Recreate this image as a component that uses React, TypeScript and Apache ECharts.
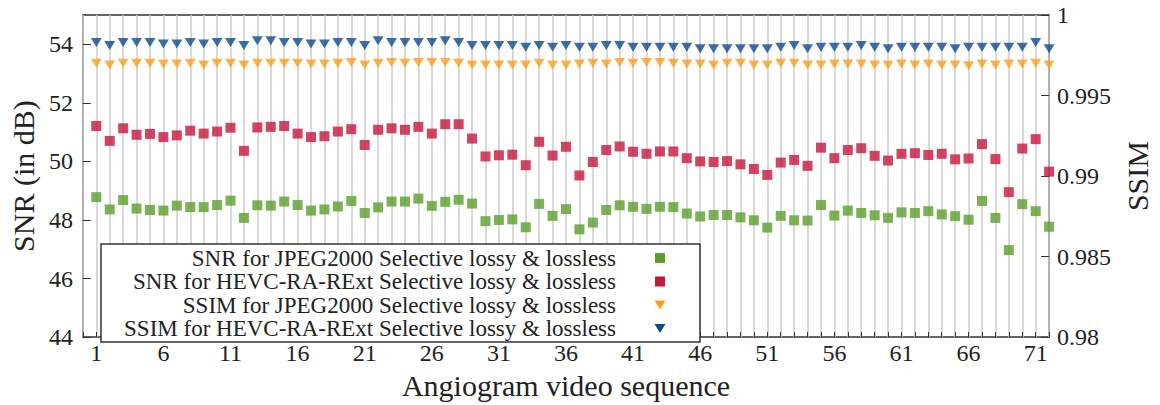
import React, { useEffect, useRef } from "react";
import * as echarts from "echarts";

const sequences = [
  1, 2, 3, 4, 5, 6, 7, 8, 9, 10, 11, 12, 13, 14, 15, 16, 17, 18, 19, 20, 21, 22, 23, 24,
  25, 26, 27, 28, 29, 30, 31, 32, 33, 34, 35, 36, 37, 38, 39, 40, 41, 42, 43, 44, 45, 46, 47, 48,
  49, 50, 51, 52, 53, 54, 55, 56, 57, 58, 59, 60, 61, 62, 63, 64, 65, 66, 67, 68, 69, 70, 71, 72,
];

const snrJpeg2000 = [
  48.78, 48.36, 48.68, 48.39, 48.34, 48.32, 48.49, 48.44, 48.44, 48.51, 48.66, 48.07,
  48.5, 48.49, 48.63, 48.51, 48.32, 48.36, 48.46, 48.65, 48.24, 48.43, 48.63, 48.63,
  48.73, 48.48, 48.62, 48.69, 48.56, 47.96, 48.0, 48.02, 47.75, 48.55, 48.14, 48.37,
  47.68, 47.91, 48.34, 48.5, 48.45, 48.38, 48.45, 48.44, 48.22, 48.12, 48.17, 48.17,
  48.09, 47.99, 47.74, 48.14, 47.99, 47.98, 48.51, 48.15, 48.32, 48.24, 48.16, 48.07,
  48.26, 48.24, 48.3, 48.19, 48.13, 48.01, 48.65, 48.07, 46.97, 48.54, 48.3, 47.77,
];

const snrHevc = [
  51.21, 50.7, 51.13, 50.91, 50.94, 50.83, 50.89, 51.05, 50.95, 51.02, 51.15, 50.36,
  51.16, 51.18, 51.21, 50.95, 50.83, 50.86, 51.02, 51.1, 50.56, 51.08, 51.13, 51.08,
  51.18, 50.95, 51.27, 51.27, 50.78, 50.17, 50.21, 50.23, 49.87, 50.67, 50.2, 50.5,
  49.52, 49.98, 50.39, 50.51, 50.33, 50.26, 50.34, 50.34, 50.11, 50.0, 49.98, 50.01,
  49.9, 49.74, 49.54, 49.96, 50.05, 49.85, 50.47, 50.11, 50.39, 50.45, 50.19, 50.03,
  50.26, 50.28, 50.22, 50.26, 50.07, 50.1, 50.59, 50.08, 48.95, 50.44, 50.76, 49.65,
];

const ssimJpeg2000 = [
  0.997, 0.9969, 0.997, 0.997, 0.997, 0.99695, 0.99695, 0.997, 0.9969, 0.997, 0.997, 0.9969,
  0.997, 0.997, 0.997, 0.997, 0.99695, 0.99695, 0.997, 0.99705, 0.9969, 0.997, 0.99705, 0.997,
  0.99705, 0.99705, 0.99705, 0.997, 0.9969, 0.9969, 0.9969, 0.9969, 0.9969, 0.997, 0.9969, 0.9969,
  0.99695, 0.997, 0.99695, 0.99705, 0.997, 0.99705, 0.99705, 0.997, 0.99695, 0.99695, 0.9969, 0.997,
  0.997, 0.9969, 0.9969, 0.997, 0.997, 0.9969, 0.9969, 0.99695, 0.99695, 0.99695, 0.9969, 0.9969,
  0.99695, 0.9969, 0.99695, 0.9969, 0.9969, 0.99685, 0.99695, 0.9969, 0.99695, 0.99695, 0.997, 0.9969,
];

const ssimHevc = [
  0.9983, 0.9981, 0.9983, 0.9983, 0.9983, 0.9982, 0.9982, 0.9983, 0.9982, 0.9983, 0.9983, 0.9981,
  0.9984, 0.9984, 0.9983, 0.9983, 0.9982, 0.9982, 0.9983, 0.9983, 0.9981, 0.9984, 0.9983, 0.9983,
  0.9983, 0.9983, 0.9984, 0.9983, 0.9981, 0.9981, 0.9981, 0.9981, 0.998, 0.9981, 0.998, 0.9981,
  0.998, 0.998, 0.9981, 0.9981, 0.998, 0.998, 0.998, 0.998, 0.998, 0.9979, 0.9979, 0.9979,
  0.9979, 0.9979, 0.9979, 0.998, 0.9981, 0.9979, 0.998, 0.998, 0.998, 0.9981, 0.998, 0.9979,
  0.998, 0.998, 0.998, 0.998, 0.9979, 0.998, 0.998, 0.998, 0.998, 0.998, 0.9983, 0.9979,
];

const xLabelEvery = 5;
const legendLabels = [
  "SNR for JPEG2000 Selective lossy & lossless",
  "SNR for HEVC-RA-RExt Selective lossy & lossless",
  "SSIM for JPEG2000 Selective lossy & lossless",
  "SSIM for HEVC-RA-RExt Selective lossy & lossless",
];

const COLORS = ["#5a9f2c", "#c5163c", "#ff9d1c", "#0b4a92"];
const FONT = "Liberation Serif";

const pairs = (vals: number[]) => sequences.map((s, i) => [s, vals[i]]);

export default function App() {
  const ref = useRef<HTMLDivElement>(null);
  useEffect(() => {
    if (!ref.current) return;
    const chart = echarts.init(ref.current, undefined, { renderer: "svg" });
    const legendX = 101;
    const legendY = 244;
    const rowYs = [258, 281.5, 305, 328.5];
    const legendGraphics: any[] = [
      {
        type: "rect",
        shape: { x: legendX, y: legendY, width: 599, height: 98 },
        style: { fill: "#fff", stroke: "#333", lineWidth: 1.5 },
        z: 100,
      },
    ];
    legendLabels.forEach((t, i) => {
      legendGraphics.push({
        type: "text",
        x: 616,
        y: rowYs[i],
        style: {
          text: t,
          fill: "#222",
          fontFamily: FONT,
          fontSize: 23,
          align: "right",
          verticalAlign: "middle",
        },
        z: 101,
      });
      if (i < 2) {
        legendGraphics.push({
          type: "rect",
          shape: { x: 655, y: rowYs[i] - 5, width: 10, height: 10 },
          style: { fill: COLORS[i] },
          z: 101,
        });
      } else {
        legendGraphics.push({
          type: "polygon",
          shape: {
            points: [
              [654.5, rowYs[i] - 4.5],
              [665.5, rowYs[i] - 4.5],
              [660, rowYs[i] + 4.5],
            ],
          },
          style: { fill: COLORS[i] },
          z: 101,
        });
      }
    });

    chart.setOption({
      animation: false,
      backgroundColor: "#fff",
      textStyle: { fontFamily: FONT },
      grid: {
        left: 79,
        right: 94,
        top: 15,
        bottom: 55,
        show: true,
        borderColor: "#333",
        borderWidth: 1.5,
        containLabel: false,
      },
      xAxis: {
        type: "value",
        min: 0,
        max: 72,
        interval: 1,
        name: "Angiogram video sequence",
        nameLocation: "middle",
        nameGap: 16,
        nameTextStyle: { fontFamily: FONT, fontSize: 30, color: "#222", verticalAlign: "top" },
        axisLine: { show: false },
        axisTick: { show: true, inside: true, length: 5, lineStyle: { color: "#333", width: 1 } },
        axisLabel: {
          fontFamily: FONT,
          fontSize: 24,
          color: "#222",
          margin: 4,
          formatter: (v: number) =>
            v >= 1 && v <= 71 && (v - 1) % xLabelEvery === 0 ? String(v) : "",
        },
        splitLine: { show: true, lineStyle: { color: "#cccccc", width: 1.5 } },
      },
      yAxis: [
        {
          type: "value",
          min: 44,
          max: 55,
          interval: 2,
          name: "SNR (in dB)",
          nameLocation: "middle",
          nameGap: 42,
          nameRotate: 90,
          nameTextStyle: { fontFamily: FONT, fontSize: 30, color: "#222" },
          axisLine: { show: false },
          axisTick: { show: true, inside: true, length: 8, lineStyle: { color: "#333" } },
          axisLabel: {
            fontFamily: FONT,
            fontSize: 24,
            color: "#222",
            margin: 10,
            showMaxLabel: false,
          },
          splitLine: { show: false },
        },
        {
          type: "value",
          position: "right",
          min: 0.98,
          max: 1,
          interval: 0.005,
          name: "SSIM",
          nameLocation: "middle",
          nameGap: 55,
          nameRotate: 90,
          nameTextStyle: { fontFamily: FONT, fontSize: 30, color: "#222" },
          axisLine: { show: false },
          axisTick: { show: true, inside: true, length: 8, lineStyle: { color: "#333" } },
          axisLabel: {
            fontFamily: FONT,
            fontSize: 24,
            color: "#222",
            margin: 8,
            formatter: (v: number) => String(Math.round(v * 1000) / 1000),
          },
          splitLine: { show: false },
        },
      ],
      series: [
        {
          name: legendLabels[0],
          type: "scatter",
          yAxisIndex: 0,
          symbol: "rect",
          symbolSize: 10,
          itemStyle: { color: COLORS[0] },
          data: pairs(snrJpeg2000),
        },
        {
          name: legendLabels[1],
          type: "scatter",
          yAxisIndex: 0,
          symbol: "rect",
          symbolSize: 10,
          itemStyle: { color: COLORS[1] },
          data: pairs(snrHevc),
        },
        {
          name: legendLabels[2],
          type: "scatter",
          yAxisIndex: 1,
          symbol: "triangle",
          symbolRotate: 180,
          symbolSize: [11, 9],
          itemStyle: { color: COLORS[2] },
          data: pairs(ssimJpeg2000),
        },
        {
          name: legendLabels[3],
          type: "scatter",
          yAxisIndex: 1,
          symbol: "triangle",
          symbolRotate: 180,
          symbolSize: [11, 9],
          itemStyle: { color: COLORS[3] },
          data: pairs(ssimHevc),
        },
      ],
      graphic: legendGraphics,
    });
    return () => chart.dispose();
  }, []);
  return (
    <div
      ref={ref}
      style={{ position: "fixed", left: 0, top: 0, width: 1160, height: 405, background: "#fff" }}
    />
  );
}
